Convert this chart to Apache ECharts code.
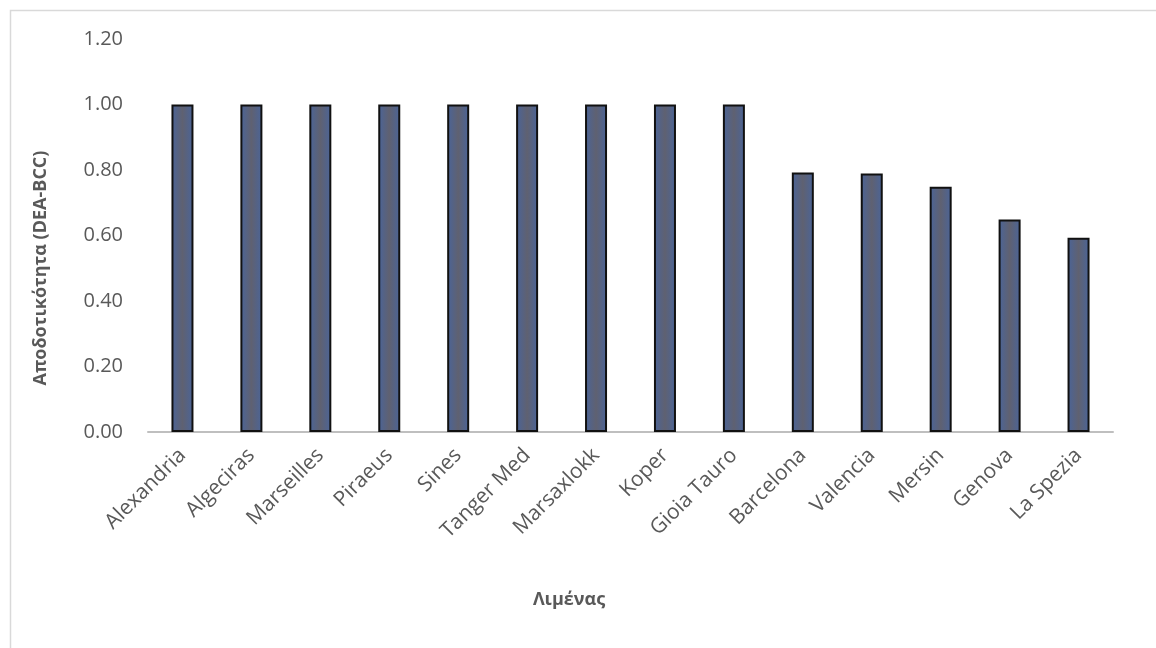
<!DOCTYPE html>
<html>
<head>
<meta charset="utf-8">
<script src="https://cdn.jsdelivr.net/npm/echarts@6/dist/echarts.min.js"></script>
<style>
  html, body { margin: 0; padding: 0; background: #fff; }
  #chart { width: 1156px; height: 648px; }
</style>
</head>
<body>
<div id="chart"></div>
<script>
// Port names (x axis) and their DEA-BCC efficiency scores
const ports = ['Alexandria', 'Algeciras', 'Marseilles', 'Piraeus', 'Sines', 'Tanger Med',
  'Marsaxlokk', 'Koper', 'Gioia Tauro', 'Barcelona', 'Valencia', 'Mersin', 'Genova', 'La Spezia'];
const efficiency = [1.00, 1.00, 1.00, 1.00, 1.00, 1.00, 1.00, 1.00, 1.00, 0.792, 0.789, 0.749, 0.649, 0.593];

const yTitle = 'Αποδοτικότητα (DEA-BCC)';
const xTitle = 'Λιμένας';

const font = '"Open Sans", "Liberation Sans", sans-serif';
const titleStyle = { fontFamily: font, fontSize: 18, fontWeight: 'bold', fill: '#595959' };
const chart = echarts.init(document.getElementById('chart'));

chart.setOption({
  backgroundColor: '#fff',
  animation: false,
  graphic: [
    {
      // chart-area frame
      type: 'rect',
      left: 8, top: 8,
      shape: { width: 1200, height: 700 },
      style: { fill: 'none', stroke: '#d9d9d9', lineWidth: 1.5 },
      silent: true
    },
    {
      // value axis title
      type: 'text',
      x: 41, y: 268,
      rotation: Math.PI / 2,
      style: Object.assign({ text: yTitle, align: 'center', verticalAlign: 'middle' }, titleStyle),
      silent: true
    },
    {
      // category axis title
      type: 'text',
      x: 569, y: 600,
      style: Object.assign({ text: xTitle, align: 'center', verticalAlign: 'middle' }, titleStyle),
      silent: true
    }
  ],
  grid: { left: 148, right: 43, top: 39, bottom: 216 },
  xAxis: {
    type: 'category',
    data: ports,
    axisLine: { lineStyle: { color: '#bfbfbf', width: 2 } },
    axisTick: { show: false },
    axisLabel: { rotate: 45, fontFamily: font, fontSize: 21, color: '#595959', margin: 20, interval: 0 }
  },
  yAxis: {
    type: 'value',
    min: 0, max: 1.2, interval: 0.2,
    axisLine: { show: false },
    axisTick: { show: false },
    splitLine: { show: false },
    axisLabel: {
      fontFamily: font, fontSize: 20, color: '#595959', margin: 25,
      formatter: v => v.toFixed(2)
    }
  },
  series: [{
    type: 'bar',
    data: efficiency,
    barWidth: 22,
    itemStyle: {
      color: new echarts.graphic.LinearGradient(0, 0, 1, 0, [
        { offset: 0, color: '#4a6499' },
        { offset: 0.5, color: '#5f6171' },
        { offset: 1, color: '#4a6499' }
      ]),
      borderColor: '#111',
      borderWidth: 2
    }
  }]
});
</script>
</body>
</html>
